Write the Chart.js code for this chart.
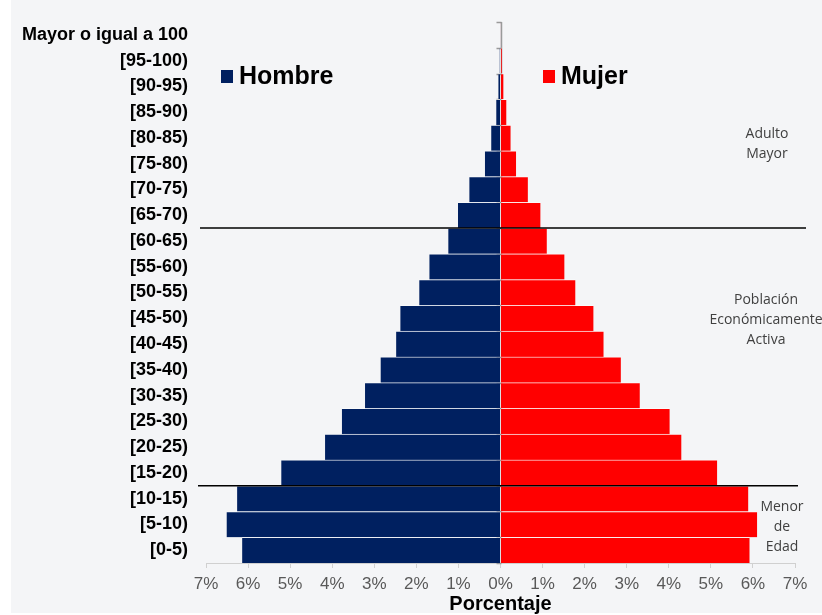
<!DOCTYPE html>
<html><head><meta charset="utf-8">
<script src="https://cdn.jsdelivr.net/npm/chart.js@4.4.1/dist/chart.umd.min.js"></script>
<style>html,body{margin:0;padding:0;background:#fff;}#wrap{position:relative;width:822px;height:615px;}</style>
</head><body><div id="wrap"><canvas id="c" width="822" height="615"></canvas></div>
<script>
const ageGroups = ['Mayor o igual a 100','[95-100)','[90-95)','[85-90)','[80-85)','[75-80)','[70-75)','[65-70)','[60-65)','[55-60)','[50-55)','[45-50)','[40-45)','[35-40)','[30-35)','[25-30)','[20-25)','[15-20)','[10-15)','[5-10)','[0-5)'];
const hombre = [0.01,0.02,0.05,0.10,0.22,0.37,0.74,1.01,1.24,1.69,1.93,2.38,2.48,2.85,3.22,3.77,4.17,5.21,6.26,6.51,6.14];
const mujer  = [0.01,0.03,0.07,0.14,0.24,0.37,0.65,0.95,1.10,1.52,1.78,2.21,2.45,2.86,3.31,4.02,4.30,5.15,5.89,6.10,5.92];
const seriesNames = ['Hombre','Mujer'];
const groupNotes = [
  {lines:['Adulto','Mayor']},
  {lines:['Población','Económicamente','Activa']},
  {lines:['Menor','de','Edad']}
];
const dividerAfter = ['[65-70)','[15-20)'];
const axisTitle = 'Porcentaje';

Chart.defaults.font.family = "'Liberation Sans', Arial, sans-serif";

const bgPlugin = {
  id:'bg',
  beforeDraw(chart){
    const ctx = chart.ctx;
    ctx.save();
    ctx.fillStyle = '#ffffff';
    ctx.fillRect(0,0,chart.width,chart.height);
    ctx.fillStyle = '#f4f5f7';
    ctx.fillRect(11,0,chart.width-11,613);
    ctx.restore();
  }
};

const axisZeroPlugin = {
  id:'axisZero',
  beforeDatasetsDraw(chart){
    const ctx = chart.ctx, x = chart.scales.x;
    const x0 = Math.round(x.getPixelForValue(0)) + 0.5;
    const area = chart.chartArea;
    ctx.save();
    ctx.strokeStyle = '#9a9a9a';
    ctx.lineWidth = 1.5;
    ctx.beginPath();
    ctx.moveTo(x0, area.top); ctx.lineTo(x0, area.bottom);
    const n = ageGroups.length;
    const step = (area.bottom-area.top)/n;
    for(let i=0;i<=n;i++){
      const yy = Math.round(area.top + i*step)+0.5;
      ctx.moveTo(x0-5, yy); ctx.lineTo(x0, yy);
    }
    ctx.stroke();
    ctx.restore();
  }
};

const overlayPlugin = {
  id:'overlay',
  afterDatasetsDraw(chart){
    const ctx = chart.ctx, ys = chart.scales.y;
    ctx.save();
    ctx.strokeStyle = '#000';
    ctx.lineWidth = 1.5;
    const ends = [[200,806],[198,798]];
    dividerAfter.forEach((lab,k)=>{
      const i = ageGroups.indexOf(lab);
      const yy = (ys.getPixelForValue(i)+ys.getPixelForValue(i+1))/2;
      ctx.beginPath(); ctx.moveTo(ends[k][0], yy); ctx.lineTo(ends[k][1], yy); ctx.stroke();
    });
    const colors = ['#002060','#ff0000'];
    const lx = [221, 543];
    ctx.font = "bold 25px 'Liberation Sans', Arial, sans-serif";
    ctx.textBaseline = 'middle';
    ctx.textAlign = 'left';
    seriesNames.forEach((nm,k)=>{
      ctx.fillStyle = colors[k];
      ctx.fillRect(lx[k], 70, 12, 13);
      ctx.fillStyle = '#000';
      ctx.fillText(nm, lx[k]+18, 77);
    });
    ctx.font = "14px 'Open Sans', sans-serif";
    ctx.fillStyle = '#404040';
    ctx.textAlign = 'center';
    const cx = [767, 766, 782];
    const cy = [144, 320, 527];
    groupNotes.forEach((g,k)=>{
      const lh = 20;
      const start = cy[k] - (g.lines.length-1)*lh/2;
      g.lines.forEach((t,j)=> ctx.fillText(t, cx[k], start + j*lh));
    });
    ctx.restore();
  }
};

new Chart(document.getElementById('c'), {
  type:'bar',
  data:{
    labels: ageGroups,
    datasets:[
      {label:seriesNames[0], data: hombre.map(v=>-v), backgroundColor:'#002060',
       borderColor:'rgba(255,255,255,0.55)', borderWidth:{top:1,bottom:0,left:0,right:0}, borderSkipped:false},
      {label:seriesNames[1], data: mujer, backgroundColor:'#ff0000',
       borderColor:'rgba(255,255,255,0.55)', borderWidth:{top:1,bottom:0,left:0,right:0}, borderSkipped:false}
    ]
  },
  options:{
    indexAxis:'y',
    responsive:false,
    devicePixelRatio:1,
    animation:false,
    barPercentage:1,
    categoryPercentage:1,
    layout:{padding:{left:0,right:27,top:22,bottom:0}},
    plugins:{legend:{display:false}, tooltip:{enabled:false}},
    scales:{
      x:{
        stacked:true, min:-7, max:7,
        ticks:{stepSize:1, color:'#595959', font:{size:17}, padding:6,
          callback:(v)=>Math.abs(v)+'%'},
        grid:{drawOnChartArea:false, drawTicks:true, tickLength:5, color:'#d0d0d0'},
        border:{display:true, color:'#d0d0d0', width:1},
        title:{display:true, text:axisTitle, color:'#000', font:{size:20, weight:'bold'}, padding:{top:0,bottom:-1}},
        afterFit:(s)=>{ s.height = 52; }
      },
      y:{
        stacked:true,
        ticks:{color:'#000', font:{size:18, weight:'bold'}, padding:18, autoSkip:false},
        grid:{display:false, drawTicks:false},
        border:{display:false},
        afterFit:(s)=>{ s.width = 206; s.paddingTop = 0; s.paddingBottom = 0; }
      }
    }
  },
  plugins:[bgPlugin, axisZeroPlugin, overlayPlugin]
});
</script></body></html>
